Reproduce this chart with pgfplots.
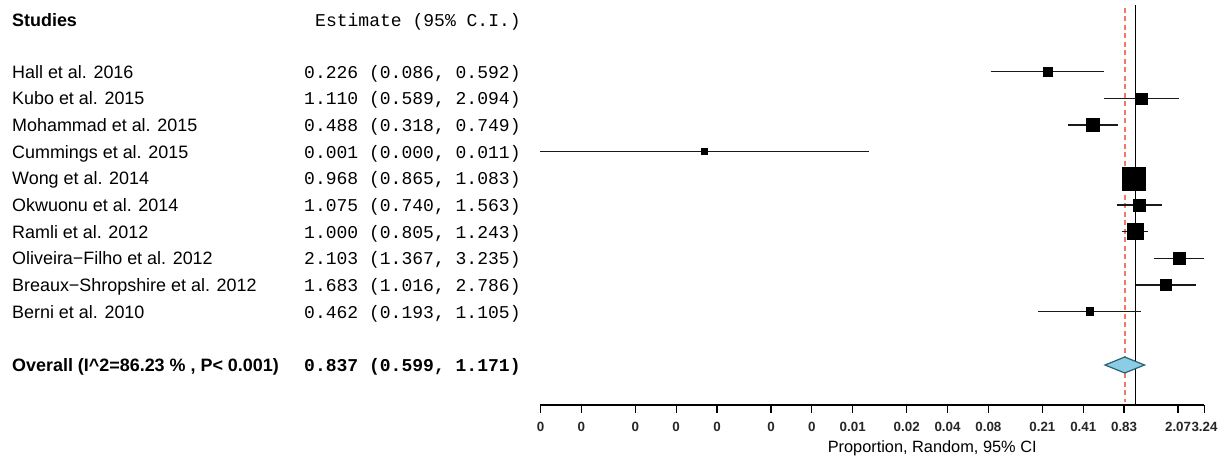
\documentclass[border=0pt]{standalone}
\usepackage{fontspec}
\setmainfont{Liberation Sans}
\setmonofont{Liberation Mono}
\usepackage{pgfplots}
\usepackage{pgfplotstable}
\pgfplotsset{compat=1.18}

\definecolor{cidark}{RGB}{25,25,25}
\definecolor{refred}{RGB}{240,120,100}
\definecolor{diafill}{RGB}{140,205,230}
\definecolor{diaedge}{RGB}{40,100,115}

% row (negative = further down), estimate, CI, half side of the box
\pgfplotstableread{
row est lo hi sz
-1 0.226 0.086 0.592 4.5
-2 1.110 0.589 2.094 5.5
-3 0.488 0.318 0.749 6.5
-4 0.00067 0.0000414 0.011 3
-5 0.968 0.865 1.083 11.5
-6 1.075 0.740 1.563 6
-7 1.000 0.805 1.243 8
-8 2.103 1.367 3.235 6
-9 1.683 1.016 2.786 5.5
-10 0.462 0.193 1.105 4
}\studies

\pgfplotstableread{
x y
0.086 -1
0.592 -1
nan nan
0.589 -2
2.094 -2
nan nan
0.318 -3
0.749 -3
nan nan
0.0000414 -4
0.011 -4
nan nan
0.865 -5
1.083 -5
nan nan
0.740 -6
1.563 -6
nan nan
0.805 -7
1.243 -7
nan nan
1.367 -8
3.235 -8
nan nan
1.016 -9
2.786 -9
nan nan
0.193 -10
1.105 -10
}\cilines

\newcommand{\bigtext}{\fontsize{18}{20}\selectfont}
\newcommand{\monotext}{\fontsize{18.1}{20}\selectfont\ttfamily}
\newcommand{\studyrow}[3]{%
  \node[anchor=base west, inner sep=0pt, font=\bigtext]
    at ([xshift=-528.5bp,yshift=-6.4bp]axis cs:4.14e-5,#1) {#2};
  \node[anchor=base west, inner sep=0pt, font=\monotext]
    at ([xshift=-236.5bp,yshift=-6.4bp]axis cs:4.14e-5,#1) {#3};}

\begin{document}
\begin{tikzpicture}
\begin{axis}[
    name=ax,
    scale only axis,
    width=664bp,
    height=400bp,
    xmode=log,
    xmin=4.14e-5, xmax=3.24,
    ymin=-13.5, ymax=1.5,
    axis y line=none,
    axis x line=bottom,
    x axis line style={-, black, line width=1.3bp},
    xtick={4.14e-5,8.28e-5,2.07e-4,4.14e-4,8.28e-4,2.07e-3,4.14e-3,8.28e-3,0.0207,0.0414,0.0828,0.207,0.414,0.828,2.07,3.24},
    xticklabels={0,0,0,0,0,0,0,0.01,0.02,0.04,0.08,0.21,0.41,0.83,2.07,3.24},
    minor xtick={},
    tick align=outside,
    major tick length=8bp,
    xtick style={black, line width=1.2bp},
    xticklabel style={font=\fontsize{13.4}{14}\selectfont\bfseries, inner sep=1pt, yshift=-8bp, text=black!85},
    clip=false,
]
% reference lines
\addplot[refred, line width=2bp, dash pattern=on 5bp off 3.5bp] coordinates {(0.837,1.4) (0.837,-13.4)};
\addplot[black, line width=1.4bp] coordinates {(1,1.5) (1,-13.5)};

% confidence intervals
\addplot[cidark, line width=1.6bp, unbounded coords=jump] table[x=x, y=y] {\cilines};

% study boxes, sized by weight
\addplot[scatter, only marks, mark=square*,
    scatter/use mapped color={draw=black, fill=black},
    visualization depends on={\thisrow{sz} \as \msz},
    scatter/@pre marker code/.append style={/tikz/mark size=\msz}]
    table[x=est, y=row] {\studies};

% overall diamond
\addplot[draw=diaedge, fill=diafill, line width=1.2bp] coordinates {(0.599,-12) (0.837,-11.7) (1.171,-12) (0.837,-12.3)} -- cycle;

% table text
\node[anchor=base west, inner sep=0pt, font=\bigtext\bfseries]
  at ([xshift=-528.5bp,yshift=-6.4bp]axis cs:4.14e-5,0.94) {Studies};
\node[anchor=base west, inner sep=0pt, font=\monotext]
  at ([xshift=-225.5bp,yshift=-6.4bp]axis cs:4.14e-5,0.94) {Estimate (95\% C.I.)};
\studyrow{-1}{Hall et al. 2016}{0.226 (0.086, 0.592)}
\studyrow{-2}{Kubo et al. 2015}{1.110 (0.589, 2.094)}
\studyrow{-3}{Mohammad et al. 2015}{0.488 (0.318, 0.749)}
\studyrow{-4}{Cummings et al. 2015}{0.001 (0.000, 0.011)}
\studyrow{-5}{Wong et al. 2014}{0.968 (0.865, 1.083)}
\studyrow{-6}{Okwuonu et al. 2014}{1.075 (0.740, 1.563)}
\studyrow{-7}{Ramli et al. 2012}{1.000 (0.805, 1.243)}
\studyrow{-8}{Oliveira−Filho et al. 2012}{2.103 (1.367, 3.235)}
\studyrow{-9}{Breaux−Shropshire et al. 2012}{1.683 (1.016, 2.786)}
\studyrow{-10}{Berni et al. 2010}{0.462 (0.193, 1.105)}
\node[anchor=base west, inner sep=0pt, font=\bigtext\bfseries]
  at ([xshift=-528.5bp,yshift=-6.4bp]axis cs:4.14e-5,-12) {Overall (I\textasciicircum 2=86.23 \% , P< 0.001)};
\node[anchor=base west, inner sep=0pt, font=\monotext\bfseries]
  at ([xshift=-236.5bp,yshift=-6.4bp]axis cs:4.14e-5,-12) {0.837 (0.599, 1.171)};

% axis title, set right of centre as in the source
\node[font=\fontsize{16.4}{18}\selectfont] at (axis cs:0.0319,-15.11) {Proportion, Random, 95\% CI};
\end{axis}
\pgfresetboundingbox
\path[use as bounding box] ([xshift=-540.5bp,yshift=5bp]ax.north west) rectangle ([xshift=21.5bp,yshift=-55bp]ax.south east);
\end{tikzpicture}
\end{document}
